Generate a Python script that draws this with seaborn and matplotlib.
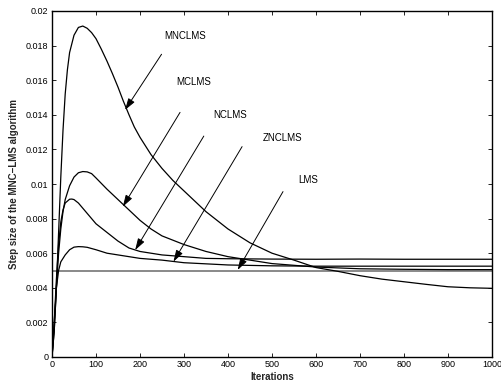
import numpy as np
import pandas as pd
import matplotlib
matplotlib.use("Agg")
import matplotlib.pyplot as plt
import seaborn as sns

# ---- data ----
x_mnclms = [0, 5, 10, 15, 20, 25, 30, 35, 40, 50, 60, 70, 80, 90, 100, 112, 125, 137, 150, 162, 175, 187,
            200, 225, 250, 275, 300, 350, 400, 450, 500, 550, 600, 650, 700, 750, 800, 850, 900, 950, 1000]
y_mnclms = [0, 0.0015, 0.0040, 0.0072, 0.0104, 0.0131, 0.0152, 0.0166, 0.0176, 0.0186, 0.01905, 0.01913,
            0.0190, 0.01875, 0.0184, 0.0178, 0.0171, 0.0164, 0.0156, 0.0148, 0.0140, 0.0133,
            0.0127, 0.0117, 0.0109, 0.0102, 0.0096, 0.0084, 0.0074, 0.0066, 0.0060, 0.0056,
            0.00517, 0.00495, 0.0047, 0.0045, 0.00435, 0.0042, 0.00406, 0.0040, 0.00397]

x_mclms = [0, 5, 10, 15, 20, 25, 30, 40, 50, 60, 70, 80, 90, 100, 125, 150, 175, 200, 225, 250,
           300, 350, 400, 450, 500, 550, 600, 700, 800, 900, 1000]
y_mclms = [0, 0.0015, 0.0040, 0.0060, 0.0074, 0.0084, 0.0091, 0.0099, 0.0104, 0.01065, 0.01072,
           0.0107, 0.0106, 0.01035, 0.0097, 0.0091, 0.0085, 0.0079, 0.0074, 0.0070,
           0.0065, 0.0061, 0.0058, 0.0056, 0.0054, 0.0053, 0.0052, 0.0051, 0.00507, 0.00505, 0.00505]

x_nclms = [0, 5, 10, 15, 20, 25, 30, 40, 45, 50, 60, 70, 80, 100, 125, 150, 175, 200, 250,
           300, 350, 400, 500, 600, 700, 800, 900, 1000]
y_nclms = [0, 0.0020, 0.0045, 0.0065, 0.0078, 0.0085, 0.0089, 0.00912, 0.00913, 0.0091, 0.0089,
           0.0086, 0.0083, 0.0077, 0.0072, 0.0067, 0.0063, 0.0061, 0.0059,
           0.0058, 0.0057, 0.00568, 0.00566, 0.00565, 0.00566, 0.00565, 0.00565, 0.00565]

x_znclms = [0, 5, 10, 15, 20, 30, 40, 50, 60, 70, 80, 100, 125, 150, 200, 250, 300, 400, 500,
            600, 700, 800, 900, 1000]
y_znclms = [0, 0.0020, 0.0040, 0.0050, 0.0055, 0.0059, 0.0062, 0.00635, 0.00638, 0.00637, 0.00634,
            0.0062, 0.0060, 0.0059, 0.0057, 0.0056, 0.00545, 0.00532, 0.00527,
            0.00525, 0.00525, 0.00525, 0.00525, 0.00525]

x_lms = [0, 1000]
y_lms = [0.005, 0.005]

# annotation labels: text position, arrow start, arrow tip (data coords)
labels = ["MNCLMS", "MCLMS", "NCLMS", "ZNCLMS", "LMS"]
label_xy = [(302, 0.01857), (321, 0.0159), (405, 0.0140), (525, 0.01266), (582, 0.01023)]
arrow_from = [(249, 0.0175), (291, 0.01414), (345, 0.01277), (432, 0.01216), (525, 0.00956)]
arrow_to = [(166, 0.01428), (161, 0.00869), (189, 0.00618), (276, 0.00551), (422, 0.00503)]

xticks = list(range(0, 1001, 100))
yticks = [0, 0.002, 0.004, 0.006, 0.008, 0.01, 0.012, 0.014, 0.016, 0.018, 0.02]
ytick_labels = ["0", "0.002", "0.004", "0.006", "0.008", "0.01", "0.012", "0.014", "0.016", "0.018", "0.02"]

# ---- build long-form table ----
frames = []
for name, xs, ys in [("MNCLMS", x_mnclms, y_mnclms), ("MCLMS", x_mclms, y_mclms),
                     ("NCLMS", x_nclms, y_nclms), ("ZNCLMS", x_znclms, y_znclms),
                     ("LMS", x_lms, y_lms)]:
    frames.append(pd.DataFrame({"iter": xs, "mu": ys, "alg": name}))
df = pd.concat(frames, ignore_index=True)

sns.set_style("white")
plt.rcParams["font.family"] = ["Liberation Sans", "DejaVu Sans"]

fig = plt.figure(figsize=(5.01, 3.86), dpi=100)
ax = fig.add_axes([52 / 501, 29 / 386, 440 / 501, 346 / 386])

sns.lineplot(data=df[df.alg == "LMS"], x="iter", y="mu", color="#808080", lw=1.3, ax=ax, legend=False)
for name in ["ZNCLMS", "NCLMS", "MCLMS", "MNCLMS"]:
    sns.lineplot(data=df[df.alg == name], x="iter", y="mu", color="black", lw=0.9, ax=ax,
                 legend=False, sort=False)

ax.set_xlim(0, 1000)
ax.set_ylim(0, 0.02)
ax.set_xticks(xticks)
ax.set_xticklabels([str(t) for t in xticks])
ax.set_yticks(yticks)
ax.set_yticklabels(ytick_labels)
ax.tick_params(direction="in", length=3, width=0.6, labelsize=6.5, top=True, right=True,
               bottom=True, left=True, colors="black", pad=2.5)
for s in ax.spines.values():
    s.set_visible(True)
    s.set_color("black")
    s.set_linewidth(1.0)

ax.set_xlabel("Iterations", fontsize=7, fontweight="bold", labelpad=1.5)
ax.set_ylabel("Step size of the MNC\u2212LMS algorithm", fontsize=7, fontweight="bold", labelpad=5)

for lab, (tx, ty), (fx, fy), (px, py) in zip(labels, label_xy, arrow_from, arrow_to):
    ax.text(tx, ty, lab, fontsize=7, ha="center", va="center", color="black")
    ax.annotate("", xy=(px, py), xytext=(fx, fy),
                arrowprops=dict(arrowstyle="-|>,head_length=0.7,head_width=0.22",
                                color="black", lw=0.7, shrinkA=0, shrinkB=0))

fig.savefig("out.png", dpi=100)
